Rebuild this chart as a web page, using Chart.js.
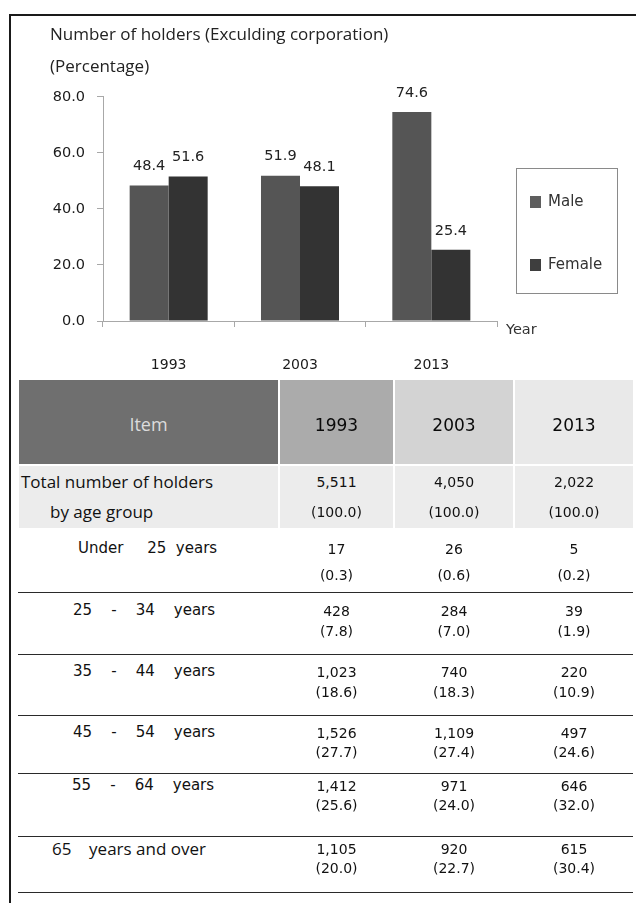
<!DOCTYPE html>
<html>
<head>
<meta charset="utf-8">
<script src="https://cdn.jsdelivr.net/npm/chart.js@4.4.1/dist/chart.umd.min.js"></script>
<style>
  html, body { margin: 0; padding: 0; background: #fff; width: 636px; height: 903px; overflow: hidden; }
  #frame { position: absolute; left: 9px; top: 14px; width: 700px; height: 1000px; border: 2.5px solid #1a1a1a; box-sizing: border-box; }
  #chartWrap { position: absolute; left: 0; top: 0; width: 636px; height: 380px; }
  .t { position: absolute; white-space: pre; line-height: 1; color: #111; }
  .dv { font-family: "DejaVu Sans", sans-serif; }
  .os { font-family: "Open Sans", sans-serif; }
  .cell { position: absolute; }
  .hline { position: absolute; left: 18px; width: 615px; height: 0; border-top: 1.6px solid #2a2a2a; }
  #legend { position: absolute; left: 516px; top: 168px; width: 102px; height: 126px; border: 1.5px solid #8a8a8a; box-sizing: border-box; background: #fff; }
  .sw { position: absolute; width: 11px; height: 12px; }
</style>
</head>
<body>
<div id="frame"></div>
<div id="chartWrap"><canvas id="c" width="636" height="380"></canvas></div>
<div id="legend"></div>
<div class="t dv" style="left:506px; top:322px; font-size:14.5px; color:#333;">Year</div>
<div id="table"></div>
<script>
// ---- chart data ----
const years = ['1993', '2003', '2013'];
const malePct = [48.4, 51.9, 74.6];
const femalePct = [51.6, 48.1, 25.4];
const seriesNames = ['Male', 'Female'];
const yTicks = [0, 20, 40, 60, 80];
const chartTitle = ['Number of holders (Exculding corporation)', '(Percentage)'];

// ---- table data ----
const tableHeader = ['Item', '1993', '2003', '2013'];
const ageGroups = ['Total number of holders', 'Under     25  years', '25    -    34    years', '35    -    44    years', '45    -    54    years', '55    -    64    years', '65    years and over'];
const holders1993 = [5511, 17, 428, 1023, 1526, 1412, 1105];
const holders2003 = [4050, 26, 284, 740, 1109, 971, 920];
const holders2013 = [2022, 5, 39, 220, 497, 646, 615];
const share1993 = [100.0, 0.3, 7.8, 18.6, 27.7, 25.6, 20.0];
const share2003 = [100.0, 0.6, 7.0, 18.3, 27.4, 24.0, 22.7];
const share2013 = [100.0, 0.2, 1.9, 10.9, 24.6, 32.0, 30.4];

const colors = ['#555555', '#333333'];
const swatchColors = ['#5e5e5e', '#3e3e3e'];

const valueLabels = {
  id: 'valueLabels',
  afterDatasetsDraw(chart) {
    const ctx = chart.ctx;
    ctx.save();
    ctx.font = '14.5px "DejaVu Sans"';
    ctx.fillStyle = '#222';
    ctx.textAlign = 'center';
    ctx.textBaseline = 'middle';
    chart.data.datasets.forEach((ds, i) => {
      chart.getDatasetMeta(i).data.forEach((bar, j) => {
        ctx.fillText(ds.data[j].toFixed(1), bar.x, bar.y - 19);
      });
    });
    ctx.restore();
  }
};

new Chart(document.getElementById('c'), {
  type: 'bar',
  data: {
    labels: years,
    datasets: [
      { label: seriesNames[0], data: malePct, backgroundColor: colors[0] },
      { label: seriesNames[1], data: femalePct, backgroundColor: colors[1] }
    ]
  },
  options: {
    responsive: false,
    animation: false,
    devicePixelRatio: 1,
    layout: { padding: { left: 50, right: 139, top: 0, bottom: 0 } },
    datasets: { bar: { barPercentage: 1, categoryPercentage: 0.594 } },
    plugins: {
      legend: { display: false },
      tooltip: { enabled: false },
      title: {
        display: true,
        text: chartTitle,
        align: 'start',
        color: '#222',
        font: { family: '"Open Sans"', size: 17, weight: 'normal', lineHeight: 1.88 },
        padding: { top: 19, bottom: 14 }
      }
    },
    scales: {
      x: {
        offset: true,
        grid: { offset: true, drawOnChartArea: false, tickLength: 6, color: '#a8a8a8' },
        border: { color: '#a8a8a8' },
        ticks: { color: '#1a1a1a', font: { family: '"DejaVu Sans"', size: 14 }, padding: 30 },
        afterFit(s) { s.height = 59; }
      },
      y: {
        min: 0, max: 80,
        afterBuildTicks(s) { s.ticks = yTicks.map(v => ({ value: v })); },
        grid: { drawOnChartArea: false, tickLength: 6, color: '#a8a8a8' },
        border: { color: '#a8a8a8' },
        ticks: { color: '#1a1a1a', font: { family: '"DejaVu Sans"', size: 14.5 }, padding: 12,
                 callback: v => Number(v).toFixed(1) },
        afterFit(s) { s.width = 53; }
      }
    }
  },
  plugins: [valueLabels]
});

// ---- legend ----
const legend = document.getElementById('legend');
seriesNames.forEach((name, i) => {
  const cy = 33 + i * 63;
  const sw = document.createElement('div');
  sw.className = 'sw';
  sw.style.left = '13px'; sw.style.top = (cy - 6) + 'px'; sw.style.background = swatchColors[i];
  legend.appendChild(sw);
  const tx = document.createElement('div');
  tx.className = 't dv';
  tx.style.left = '31px'; tx.style.top = (cy - 8) + 'px'; tx.style.fontSize = '15px'; tx.style.color = '#333';
  tx.textContent = name;
  legend.appendChild(tx);
});

// ---- table ----
const T = document.getElementById('table');
function add(txt, cls, style) {
  const d = document.createElement('div');
  d.className = cls; d.setAttribute('style', style); d.textContent = txt; T.appendChild(d); return d;
}
const colX = [19, 280, 395, 515];
const colR = [278, 393, 513, 633];
const headBg = ['#6f6f6f', '#ababab', '#d3d3d3', '#e9e9e9'];
for (let c = 0; c < 4; c++) {
  add('', 'cell', `left:${colX[c]}px;top:380px;width:${colR[c]-colX[c]}px;height:84px;background:${headBg[c]}`);
  add('', 'cell', `left:${colX[c]}px;top:466px;width:${colR[c]-colX[c]}px;height:62px;background:#ececec`);
}
add(tableHeader[0], 't os', `left:${colX[0]}px;width:${colR[0]-colX[0]}px;text-align:center;top:415px;font-size:18px;color:#dcdcdc`);
for (let c = 1; c < 4; c++) {
  add(tableHeader[c], 't dv', `left:${colX[c]}px;width:${colR[c]-colX[c]}px;text-align:center;top:417px;font-size:17px;color:#0a0a0a`);
}
const rowY = [[483, 513], [550, 576], [612, 632], [673, 693], [734, 753], [787, 806], [850, 869]];
const lineY = [592, 654, 715, 773, 836, 892];
const hold = [holders1993, holders2003, holders2013];
const share = [share1993, share2003, share2013];
const labelX = [21, 78, 73, 73, 73, 72, 52];
ageGroups.forEach((g, r) => {
  const isOS = (r === 0 || r === 6);
  add(g, 't ' + (isOS ? 'os' : 'dv'), `left:${labelX[r]}px;top:${rowY[r][0] - (isOS ? 10 : 9)}px;font-size:${isOS ? 17 : 15}px`);
  if (r === 0) add('by age group', 't os', `left:50px;top:${rowY[r][1] - 10}px;font-size:17px`);
  for (let c = 0; c < 3; c++) {
    add(hold[c][r].toLocaleString('en-US'), 't dv', `left:${colX[c+1]}px;width:${colR[c+1]-colX[c+1]}px;text-align:center;top:${rowY[r][0]-8}px;font-size:14px`);
    add('(' + share[c][r].toFixed(1) + ')', 't dv', `left:${colX[c+1]}px;width:${colR[c+1]-colX[c+1]}px;text-align:center;top:${rowY[r][1]-8}px;font-size:14px`);
  }
});
lineY.forEach(y => add('', 'hline', `top:${y}px`));
</script>
</body>
</html>
